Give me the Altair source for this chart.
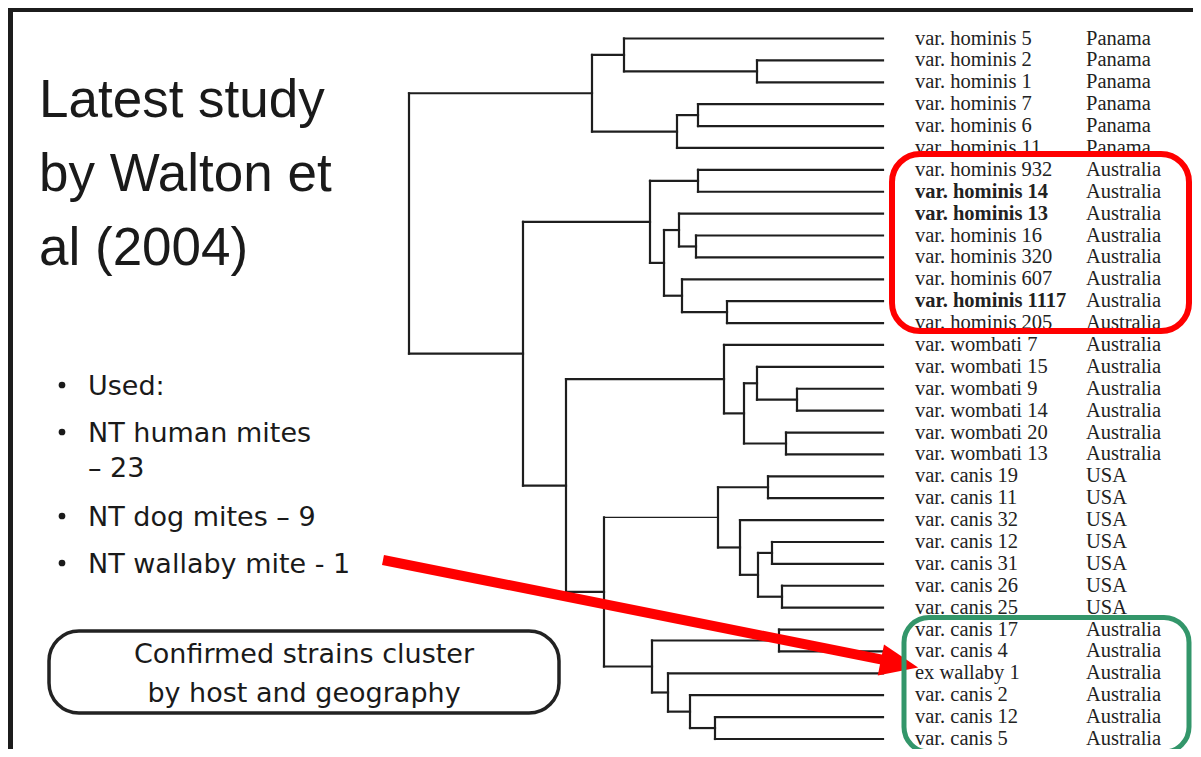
import altair as alt
import pandas as pd

# ---------------- data ----------------
leaf_names = [
    "var. hominis 5", "var. hominis 2", "var. hominis 1", "var. hominis 7",
    "var. hominis 6", "var. hominis 11", "var. hominis 932", "var. hominis 14",
    "var. hominis 13", "var. hominis 16", "var. hominis 320", "var. hominis 607",
    "var. hominis 1117", "var. hominis 205", "var. wombati 7", "var. wombati 15",
    "var. wombati 9", "var. wombati 14", "var. wombati 20", "var. wombati 13",
    "var. canis 19", "var. canis 11", "var. canis 32", "var. canis 12",
    "var. canis 31", "var. canis 26", "var. canis 25", "var. canis 17",
    "var. canis 4", "ex wallaby 1", "var. canis 2", "var. canis 12", "var. canis 5",
]
leaf_countries = [
    "Panama", "Panama", "Panama", "Panama", "Panama", "Panama",
    "Australia", "Australia", "Australia", "Australia", "Australia", "Australia",
    "Australia", "Australia", "Australia", "Australia", "Australia", "Australia",
    "Australia", "Australia", "USA", "USA", "USA", "USA", "USA", "USA", "USA",
    "Australia", "Australia", "Australia", "Australia", "Australia", "Australia",
]
bold_leaves = ["var. hominis 14", "var. hominis 13", "var. hominis 1117"]
leaf_distance = 474

# internal nodes (children are leaf indices or node ids), distance from root
node_ids = ["A", "B", "C", "D", "E", "F", "G", "H", "I", "J", "K", "L",
            "W5", "W3", "W4", "W2", "W", "U1", "U2", "U3", "U4", "U5", "USA",
            "Z1", "Z4", "Z3", "Z2", "AC", "CAN", "N", "M", "ROOT"]
node_left = [1, 0, 3, "C", "B", 6, 9, 8, 12, 11, "H", "F",
             16, 15, 18, "W3", 14, 20, 23, 25, "U2", 22, "U1",
             27, 31, 30, 29, "Z1", "USA", "W", "L", "E"]
node_right = [2, "A", 4, 5, "D", 7, 10, "G", 13, "I", "J", "K",
              17, "W5", 19, "W4", "W2", 21, 24, 26, "U3", "U4", "U5",
              28, 32, "Z4", "Z3", "Z2", "AC", "CAN", "N", "M"]
node_dist = [348, 215, 289, 268, 183, 289, 287, 270, 318, 273, 255, 241,
             388, 348, 377, 335, 315, 359, 363, 373, 349, 331, 309,
             370, 306, 281, 259, 243, 195, 157, 114, 0]

title_lines = ["Latest study", "by Walton et", "al (2004)"]
bullet_items = ["Used:", "NT human mites", "– 23", "NT dog mites – 9", "NT wallaby mite - 1"]
bullet_marks = [True, True, False, True, True]
box_lines = ["Confirmed strains cluster", "by host and geography"]

# ---------------- tree layout ----------------
pos = {i: (leaf_distance, i) for i in range(len(leaf_names))}
segs = []
for nid, l, r, d in zip(node_ids, node_left, node_right, node_dist):
    ys = []
    for c in (l, r):
        cx, cy = pos[c]
        thin = (nid == "CAN" and c == "USA")
        segs.append(dict(x=d, x2=cx, y=cy, y2=cy, w=1.2 if thin else 2.2))
        ys.append(cy)
    segs.append(dict(x=d, x2=d, y=ys[0], y2=ys[1], w=2.2))
    pos[nid] = (d, sum(ys) / 2)
seg_df = pd.DataFrame(segs)

leaf_df = pd.DataFrame({
    "name": leaf_names,
    "country": leaf_countries,
    "idx": list(range(len(leaf_names))),
    "dist": [leaf_distance] * len(leaf_names),
    "bold": [n in bold_leaves for n in leaf_names],
})

xs = alt.Scale(domain=[0, 474], range=[401, 875], nice=False, zero=False)
ys = alt.Scale(domain=[0, 32], range=[30.5, 731], nice=False, zero=False)

INK = "#1e1e1e"

tree = alt.Chart(seg_df).mark_rule(color=INK, strokeCap="square").encode(
    x=alt.X("x:Q", scale=xs, axis=None),
    x2="x2:Q",
    y=alt.Y("y:Q", scale=ys, axis=None),
    y2="y2:Q",
    strokeWidth=alt.StrokeWidth("w:Q", scale=None),
)

def leaf_text(field, dx, bold):
    flt = "datum.bold" if bold else "!datum.bold"
    return alt.Chart(leaf_df).transform_filter(flt).mark_text(
        align="left", baseline="middle", dx=dx, font="Liberation Serif",
        fontSize=20.5, fontWeight="bold" if (bold and field == "name") else "normal",
        color="#222222",
    ).encode(
        x=alt.X("dist:Q", scale=xs, axis=None),
        y=alt.Y("idx:Q", scale=ys, axis=None),
        text=f"{field}:N",
    )

layers = [tree,
          leaf_text("name", 32, False), leaf_text("name", 32, True),
          leaf_text("country", 203, False), leaf_text("country", 203, True)]

one = pd.DataFrame({"k": [0]})

def vrect(x1, x2, y1, y2, **kw):
    return alt.Chart(one).mark_rect(**kw).encode(
        x=alt.value(x1), x2=alt.value(x2), y=alt.value(y1), y2=alt.value(y2))

# red highlight box
layers.append(vrect(884, 1181, 146, 323, fillOpacity=0, stroke="#ff0000",
                    strokeWidth=6, cornerRadius=28))
# arrow
layers.append(alt.Chart(one).mark_rule(color="#ff0000", strokeWidth=10, strokeCap="butt").encode(
    x=alt.value(375), y=alt.value(552), x2=alt.value(874), y2=alt.value(651.6)))
layers.append(alt.Chart(one).mark_point(
    shape="M -1 -0.83 L 1 0 L -1 0.83 Z", size=1444, filled=True,
    color="#ff0000", opacity=1, angle=11.4, strokeWidth=0).encode(
    x=alt.value(891.5), y=alt.value(655.8)))
# green box
layers.append(vrect(896, 1181, 609.5, 744, fillOpacity=0, stroke="#33966a",
                    strokeWidth=5, cornerRadius=25))

# title
for i, t in enumerate(title_lines):
    layers.append(alt.Chart(one).mark_text(
        align="left", baseline="alphabetic", font="Liberation Sans", fontSize=53,
        color="#1a1a1a", text=t).encode(x=alt.value(31), y=alt.value(109 + 74 * i)))

# bullets
bullet_y = [387, 434, 469, 518, 565]
for t, has_dot, by in zip(bullet_items, bullet_marks, bullet_y):
    layers.append(alt.Chart(one).mark_text(
        align="left", baseline="alphabetic", font="DejaVu Sans", fontSize=27,
        color="#1a1a1a", text=t).encode(x=alt.value(80), y=alt.value(by)))
    if has_dot:
        layers.append(alt.Chart(one).mark_point(
            shape="circle", filled=True, size=45, color="#1a1a1a", opacity=1).encode(
            x=alt.value(54), y=alt.value(by - 10)))

# rounded caption box
layers.append(vrect(41, 551, 623, 705, fillOpacity=0, stroke="#222222",
                    strokeWidth=3.5, cornerRadius=30))
for i, t in enumerate(box_lines):
    layers.append(alt.Chart(one).mark_text(
        align="center", baseline="alphabetic", font="DejaVu Sans", fontSize=27,
        color="#1a1a1a", text=t).encode(x=alt.value(296), y=alt.value(655 + 39 * i)))

# slide frame
layers.append(vrect(0, 1185, 0, 4, color="#1c1c1c"))
layers.append(vrect(0, 5, 0, 741, color="#1c1c1c"))

chart = alt.layer(*layers).properties(
    width=1185, height=741,
    autosize=alt.AutoSizeParams(type="none"),
    padding=0, background="white",
).configure_view(stroke=None)

chart.save("out.html", embed_options={"renderer": "svg", "actions": False})
